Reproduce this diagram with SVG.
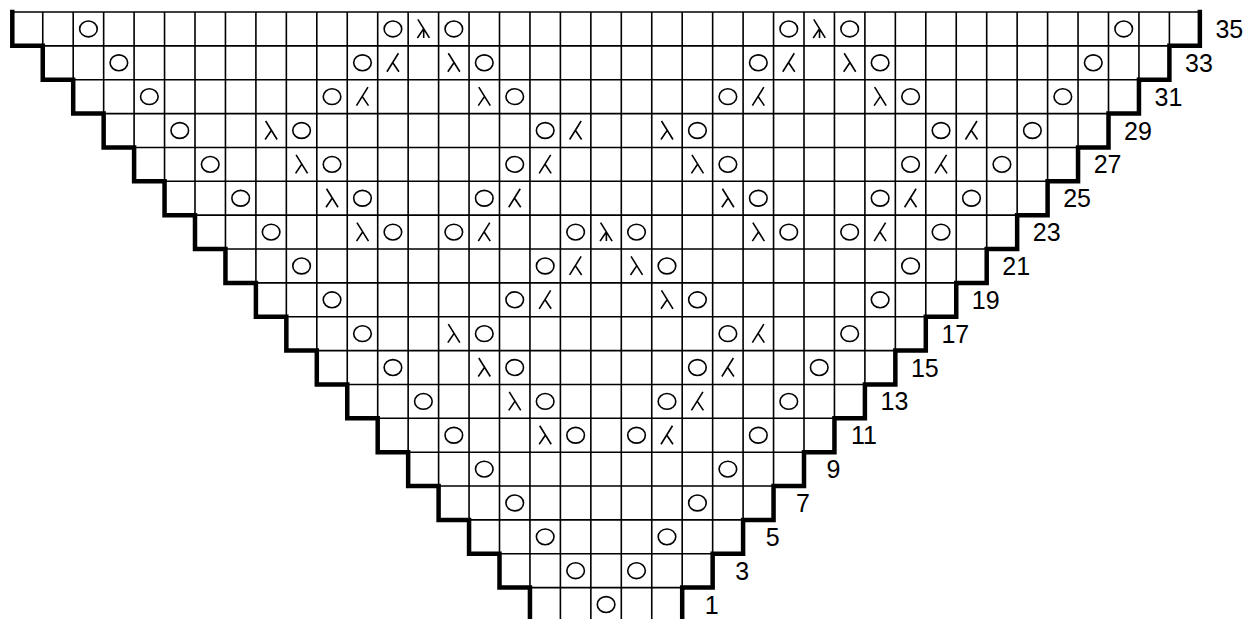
<svg xmlns="http://www.w3.org/2000/svg" xmlns:xlink="http://www.w3.org/1999/xlink" width="1249" height="619" viewBox="0 0 1249 619">
<style>
.grid{fill:none;stroke:#000;stroke-width:1.6}
.stair{fill:none;stroke:#000;stroke-width:4.5;stroke-linejoin:miter;stroke-linecap:square}
.sym{fill:none;stroke:#000;stroke-width:1.6;stroke-linecap:butt}
.lbl{font-family:"Liberation Sans",Arial,sans-serif;font-size:25px;fill:#000;text-anchor:middle}
</style>
<defs>
<ellipse id="o" cx="0" cy="0" rx="8.8" ry="7.9" class="sym"/>
<path id="r" d="M-5.5,-9.5 L6,9 M0.3,-0.3 L-6,9" class="sym"/>
<path id="l" d="M5.5,-9.5 L-6,9 M-0.3,-0.3 L6,9" class="sym"/>
<path id="s" d="M-5.5,-9.5 L6,9 M0.3,-0.3 L-6,9 M0.3,-0.3 V9" class="sym"/>
</defs>
<rect width="1249" height="619" fill="#fff"/>
<g id="grid">
<path class="grid" d="M12.3,12H1199.85 M42.75,45.86H1169.4 M73.2,79.72H1138.95 M103.65,113.58H1108.5 M134.1,147.44H1078.05 M164.55,181.3H1047.6 M195,215.16H1017.15 M225.45,249.02H986.7 M255.9,282.88H956.25 M286.35,316.74H925.8 M316.8,350.6H895.35 M347.25,384.46H864.9 M377.7,418.32H834.45 M408.15,452.18H804 M438.6,486.04H773.55 M469.05,519.9H743.1 M499.5,553.76H712.65 M529.95,587.62H682.2"/>
<path class="grid" d="M12.3,12V45.86 M42.75,12V79.72 M73.2,12V113.58 M103.65,12V147.44 M134.1,12V181.3 M164.55,12V215.16 M195,12V249.02 M225.45,12V282.88 M255.9,12V316.74 M286.35,12V350.6 M316.8,12V384.46 M347.25,12V418.32 M377.7,12V452.18 M408.15,12V486.04 M438.6,12V519.9 M469.05,12V553.76 M499.5,12V587.62 M529.95,12V621.5 M560.4,12V621.5 M590.85,12V621.5 M621.3,12V621.5 M651.75,12V621.5 M682.2,12V621.5 M712.65,12V587.62 M743.1,12V553.76 M773.55,12V519.9 M804,12V486.04 M834.45,12V452.18 M864.9,12V418.32 M895.35,12V384.46 M925.8,12V350.6 M956.25,12V316.74 M986.7,12V282.88 M1017.15,12V249.02 M1047.6,12V215.16 M1078.05,12V181.3 M1108.5,12V147.44 M1138.95,12V113.58 M1169.4,12V79.72 M1199.85,12V45.86"/>
<path class="stair" d="M12.3,12 V45.86 H42.75 V79.72 H73.2 V113.58 H103.65 V147.44 H134.1 V181.3 H164.55 V215.16 H195 V249.02 H225.45 V282.88 H255.9 V316.74 H286.35 V350.6 H316.8 V384.46 H347.25 V418.32 H377.7 V452.18 H408.15 V486.04 H438.6 V519.9 H469.05 V553.76 H499.5 V587.62 H529.95 V622"/>
<path class="stair" d="M1199.85,12 V45.86 H1169.4 V79.72 H1138.95 V113.58 H1108.5 V147.44 H1078.05 V181.3 H1047.6 V215.16 H1017.15 V249.02 H986.7 V282.88 H956.25 V316.74 H925.8 V350.6 H895.35 V384.46 H864.9 V418.32 H834.45 V452.18 H804 V486.04 H773.55 V519.9 H743.1 V553.76 H712.65 V587.62 H682.2 V622"/>
</g>
<g id="row35">
<use href="#o" x="88.43" y="28.93"/><use href="#o" x="392.93" y="28.93"/><use href="#s" x="423.38" y="28.93"/><use href="#o" x="453.83" y="28.93"/>
<use href="#o" x="788.78" y="28.93"/><use href="#s" x="819.23" y="28.93"/><use href="#o" x="849.68" y="28.93"/><use href="#o" x="1123.73" y="28.93"/>
<text class="lbl" x="1229.35" y="37.9">35</text>
</g>
<g id="row33">
<use href="#o" x="118.88" y="62.79"/><use href="#o" x="362.48" y="62.79"/><use href="#l" x="392.93" y="62.79"/><use href="#r" x="453.83" y="62.79"/><use href="#o" x="484.28" y="62.79"/>
<use href="#o" x="758.33" y="62.79"/><use href="#l" x="788.78" y="62.79"/><use href="#r" x="849.68" y="62.79"/><use href="#o" x="880.13" y="62.79"/><use href="#o" x="1093.28" y="62.79"/>
<text class="lbl" x="1198.9" y="71.8">33</text>
</g>
<g id="row31">
<use href="#o" x="149.33" y="96.65"/><use href="#o" x="332.03" y="96.65"/><use href="#l" x="362.48" y="96.65"/><use href="#r" x="484.28" y="96.65"/><use href="#o" x="514.73" y="96.65"/>
<use href="#o" x="727.88" y="96.65"/><use href="#l" x="758.33" y="96.65"/><use href="#r" x="880.13" y="96.65"/><use href="#o" x="910.58" y="96.65"/><use href="#o" x="1062.83" y="96.65"/>
<text class="lbl" x="1168.45" y="105.65">31</text>
</g>
<g id="row29">
<use href="#o" x="179.78" y="130.51"/><use href="#r" x="271.13" y="130.51"/><use href="#o" x="301.58" y="130.51"/><use href="#o" x="545.18" y="130.51"/><use href="#l" x="575.63" y="130.51"/>
<use href="#r" x="666.98" y="130.51"/><use href="#o" x="697.43" y="130.51"/><use href="#o" x="941.03" y="130.51"/><use href="#l" x="971.48" y="130.51"/><use href="#o" x="1032.38" y="130.51"/>
<text class="lbl" x="1138" y="139.5">29</text>
</g>
<g id="row27">
<use href="#o" x="210.23" y="164.37"/><use href="#r" x="301.58" y="164.37"/><use href="#o" x="332.03" y="164.37"/><use href="#o" x="514.73" y="164.37"/><use href="#l" x="545.18" y="164.37"/>
<use href="#r" x="697.43" y="164.37"/><use href="#o" x="727.88" y="164.37"/><use href="#o" x="910.58" y="164.37"/><use href="#l" x="941.03" y="164.37"/><use href="#o" x="1001.93" y="164.37"/>
<text class="lbl" x="1107.55" y="173.4">27</text>
</g>
<g id="row25">
<use href="#o" x="240.68" y="198.23"/><use href="#r" x="332.03" y="198.23"/><use href="#o" x="362.48" y="198.23"/><use href="#o" x="484.28" y="198.23"/><use href="#l" x="514.73" y="198.23"/>
<use href="#r" x="727.88" y="198.23"/><use href="#o" x="758.33" y="198.23"/><use href="#o" x="880.13" y="198.23"/><use href="#l" x="910.58" y="198.23"/><use href="#o" x="971.48" y="198.23"/>
<text class="lbl" x="1077.1" y="207.2">25</text>
</g>
<g id="row23">
<use href="#o" x="271.13" y="232.09"/><use href="#r" x="362.48" y="232.09"/><use href="#o" x="392.93" y="232.09"/><use href="#o" x="453.83" y="232.09"/><use href="#l" x="484.28" y="232.09"/>
<use href="#o" x="575.63" y="232.09"/><use href="#s" x="606.08" y="232.09"/><use href="#o" x="636.53" y="232.09"/>
<use href="#r" x="758.33" y="232.09"/><use href="#o" x="788.78" y="232.09"/><use href="#o" x="849.68" y="232.09"/><use href="#l" x="880.13" y="232.09"/><use href="#o" x="941.03" y="232.09"/>
<text class="lbl" x="1046.65" y="241.1">23</text>
</g>
<g id="row21">
<use href="#o" x="301.58" y="265.95"/><use href="#o" x="545.18" y="265.95"/><use href="#l" x="575.63" y="265.95"/><use href="#r" x="636.53" y="265.95"/><use href="#o" x="666.98" y="265.95"/><use href="#o" x="910.58" y="265.95"/>
<text class="lbl" x="1016.2" y="274.95">21</text>
</g>
<g id="row19">
<use href="#o" x="332.03" y="299.81"/><use href="#o" x="514.73" y="299.81"/><use href="#l" x="545.18" y="299.81"/><use href="#r" x="666.98" y="299.81"/><use href="#o" x="697.43" y="299.81"/><use href="#o" x="880.13" y="299.81"/>
<text class="lbl" x="985.75" y="308.8">19</text>
</g>
<g id="row17">
<use href="#o" x="362.48" y="333.67"/><use href="#r" x="453.83" y="333.67"/><use href="#o" x="484.28" y="333.67"/><use href="#o" x="727.88" y="333.67"/><use href="#l" x="758.33" y="333.67"/><use href="#o" x="849.68" y="333.67"/>
<text class="lbl" x="955.3" y="342.65">17</text>
</g>
<g id="row15">
<use href="#o" x="392.93" y="367.53"/><use href="#r" x="484.28" y="367.53"/><use href="#o" x="514.73" y="367.53"/><use href="#o" x="697.43" y="367.53"/><use href="#l" x="727.88" y="367.53"/><use href="#o" x="819.23" y="367.53"/>
<text class="lbl" x="924.85" y="376.5">15</text>
</g>
<g id="row13">
<use href="#o" x="423.38" y="401.39"/><use href="#r" x="514.73" y="401.39"/><use href="#o" x="545.18" y="401.39"/><use href="#o" x="666.98" y="401.39"/><use href="#l" x="697.43" y="401.39"/><use href="#o" x="788.78" y="401.39"/>
<text class="lbl" x="894.4" y="410.4">13</text>
</g>
<g id="row11">
<use href="#o" x="453.83" y="435.25"/><use href="#r" x="545.18" y="435.25"/><use href="#o" x="575.63" y="435.25"/><use href="#o" x="636.53" y="435.25"/><use href="#l" x="666.98" y="435.25"/><use href="#o" x="758.33" y="435.25"/>
<text class="lbl" x="863.95" y="444.25">11</text>
</g>
<g id="row9">
<use href="#o" x="484.28" y="469.11"/><use href="#o" x="727.88" y="469.11"/>
<text class="lbl" x="833.5" y="478.1">9</text>
</g>
<g id="row7">
<use href="#o" x="514.73" y="502.97"/><use href="#o" x="697.43" y="502.97"/>
<text class="lbl" x="803.05" y="511.95">7</text>
</g>
<g id="row5">
<use href="#o" x="545.18" y="536.83"/><use href="#o" x="666.98" y="536.83"/>
<text class="lbl" x="772.6" y="545.8">5</text>
</g>
<g id="row3">
<use href="#o" x="575.63" y="570.69"/><use href="#o" x="636.53" y="570.69"/>
<text class="lbl" x="742.15" y="579.7">3</text>
</g>
<g id="row1">
<use href="#o" x="606.08" y="604.55"/>
<text class="lbl" x="711.7" y="613.55">1</text>
</g>
</svg>
